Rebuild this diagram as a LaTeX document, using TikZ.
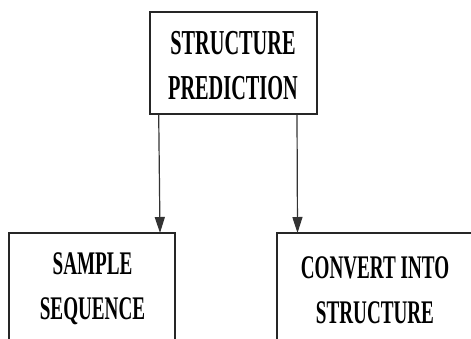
\documentclass[tikz,border=0pt]{standalone}
\usepackage{fontspec}
\setmainfont{Liberation Serif}[FakeStretch=0.58]
\usetikzlibrary{arrows.meta}
\tikzset{
  x=1pt, y=1pt,
  boxshape/.style={draw=black!85, line width=1.4pt, rectangle, inner sep=0pt},
  edge/.style={draw=black!85, line width=1.4pt},
  boxtext/.style={inner sep=0pt, align=center, font=\bfseries\fontsize{35}{45}\selectfont},
  smalltext/.style={boxtext, font=\bfseries\fontsize{33}{45}\selectfont},
  arr/.style={draw=black!80, line width=1.2pt, -{Triangle[length=16pt, width=10pt]}}
}
\begin{document}
\begin{tikzpicture}
\useasboundingbox (0,0) rectangle (471,-338);
% top box
\node[boxshape, minimum width=167, minimum height=102] (pred) at (233.5,-63) {};
% lower boxes run past the lower and right borders; only their visible sides are stroked
\coordinate (sampleNW) at (9,-233);
\coordinate (sampleNE) at (175,-233);
\coordinate (sampleSW) at (9,-340);
\coordinate (sampleSE) at (175,-340);
\coordinate (convNW) at (277,-233);
\coordinate (convNE) at (480,-233);
\coordinate (convSW) at (277,-340);
\draw[edge] (sampleSW) -- (sampleNW) -- (sampleNE) -- (sampleSE);
\draw[edge] (convSW) -- (convNW) -- (convNE);
% labels
\node[boxtext] (predtext) at (233,-66) {STRUCTURE\\PREDICTION};
\node[smalltext] (sampletext) at (92.5,-289) {SAMPLE\\SEQUENCE};
\node[smalltext] (convtext) at (375,-290) {CONVERT INTO\\STRUCTURE};
% connectors
\draw[arr] ([xshift=-74.8pt]pred.south) -- ([xshift=151pt]sampleNW);
\draw[arr] ([xshift=63.5pt]pred.south) -- ([xshift=20.5pt]convNW);
\end{tikzpicture}
\end{document}
